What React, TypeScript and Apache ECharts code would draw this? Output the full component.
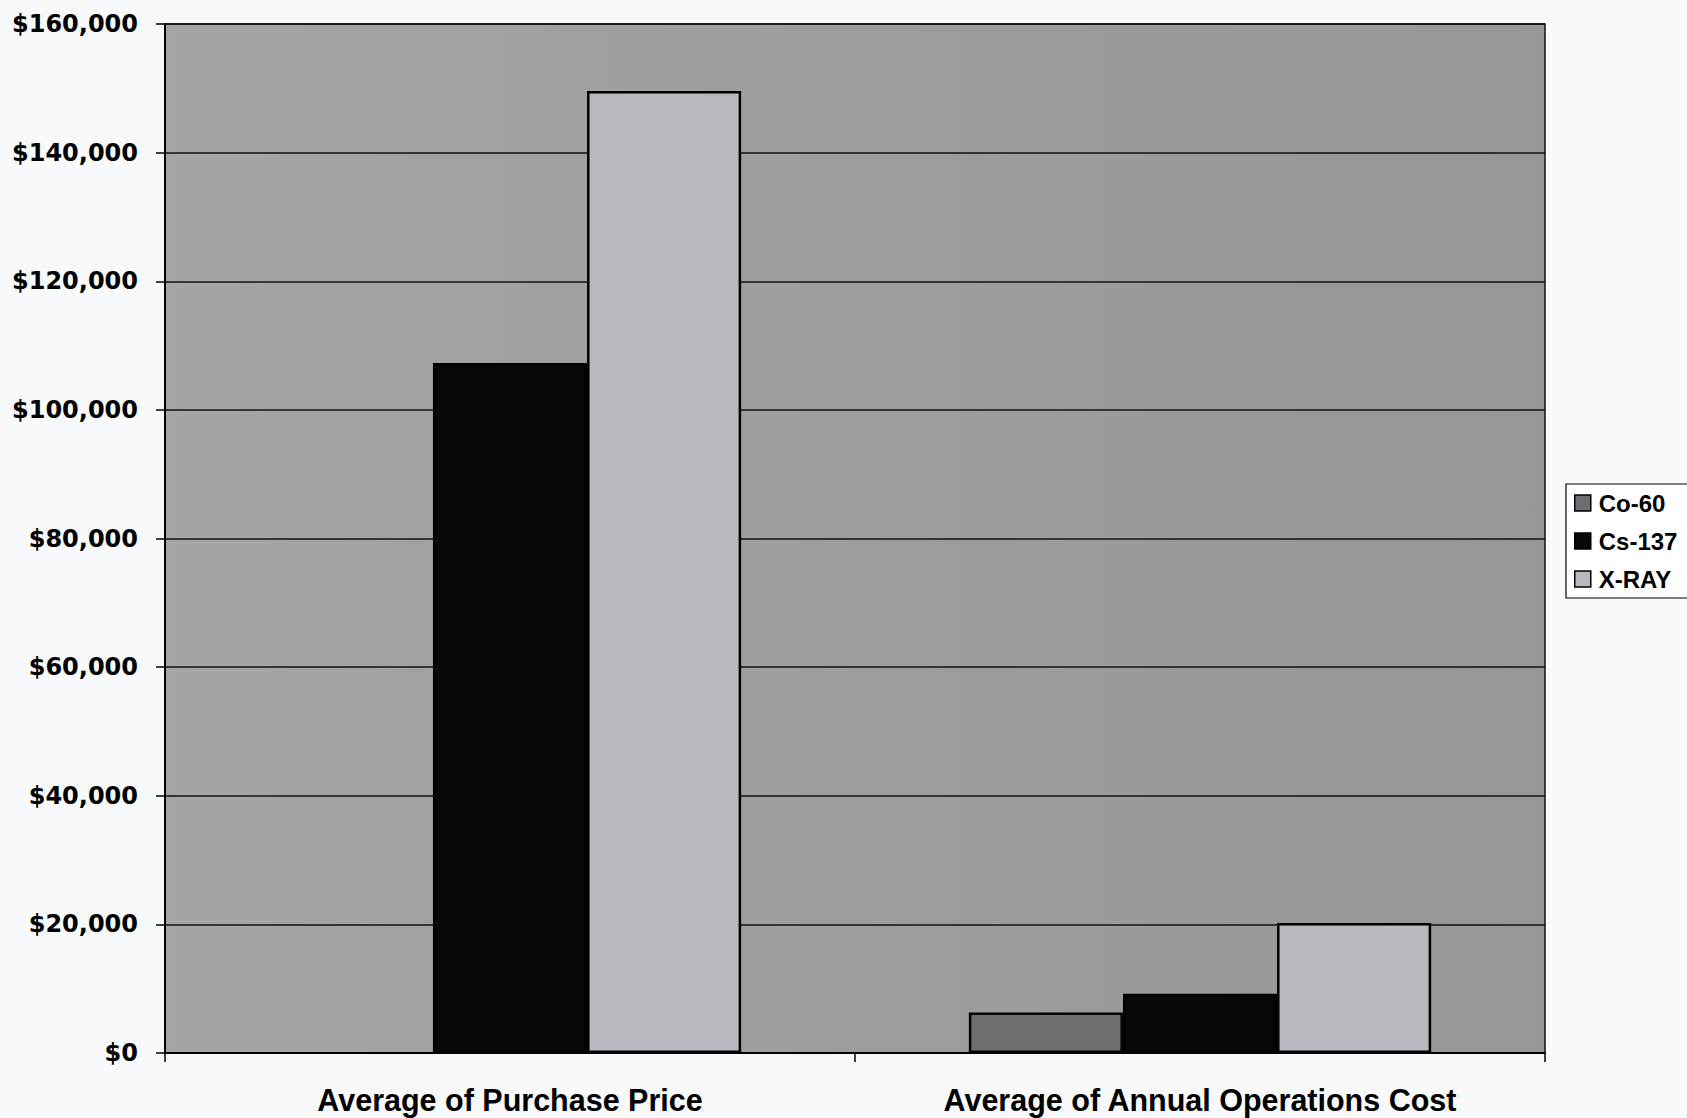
import React, { useEffect, useRef } from "react";
import * as echarts from "echarts";

// Cost comparison of irradiator types
const categories = ["Average of Purchase Price", "Average of Annual Operations Cost"];
const seriesNames = ["Co-60", "Cs-137", "X-RAY"];
const co60Values: (number | null)[] = [null, 6300];
const cs137Values: (number | null)[] = [107300, 9200];
const xrayValues: (number | null)[] = [149600, 20200];
const yMin = 0;
const yMax = 160000;
const yStep = 20000;

const barColors = ["#6d6f73", "#080808", "#b6b9be"];

function money(v: number): string {
  return "$" + v.toLocaleString("en-US");
}

export default function App() {
  const ref = useRef<HTMLDivElement | null>(null);

  useEffect(() => {
    if (!ref.current) return;
    const chart = echarts.init(ref.current, null, { renderer: "svg" });
    const valueSets = [co60Values, cs137Values, xrayValues];

    chart.setOption({
      animation: false,
      backgroundColor: "#f7f9fa",
      grid: {
        left: 165,
        top: 24,
        right: 142,
        bottom: 65,
        show: true,
        borderColor: "#111",
        borderWidth: 1.5,
        backgroundColor: {
          type: "linear",
          x: 0,
          y: 0,
          x2: 1,
          y2: 0,
          colorStops: [
            { offset: 0, color: "#a3a5a9" },
            { offset: 0.5, color: "#9b9da1" },
            { offset: 1, color: "#95979b" },
          ],
        },
      },
      legend: {
        orient: "vertical",
        left: 1566,
        top: 484,
        icon: "rect",
        itemWidth: 16,
        itemHeight: 16,
        itemGap: 12,
        padding: [6, 24, 6, 8],
        backgroundColor: "#ffffff",
        borderColor: "#000",
        borderWidth: 1.2,
        borderRadius: 0,
        itemStyle: { borderColor: "#000", borderWidth: 1.5 },
        textStyle: {
          fontFamily: "Liberation Sans, Arial, sans-serif",
          fontWeight: "bold",
          fontSize: 24,
          lineHeight: 26,
          color: "#000",
          padding: [0, 0, 0, 3],
        },
        data: seriesNames,
      },
      xAxis: {
        type: "category",
        data: categories,
        axisLine: { lineStyle: { color: "#000", width: 2 } },
        axisTick: { show: true, length: 9, interval: 0, lineStyle: { color: "#000", width: 1.5 } },
        axisLabel: {
          margin: 31,
          fontFamily: "Liberation Sans, Arial, sans-serif",
          fontWeight: "bold",
          fontSize: 30.5,
          color: "#000",
          interval: 0,
        },
        splitLine: { show: false },
      },
      yAxis: {
        type: "value",
        min: yMin,
        max: yMax,
        interval: yStep,
        axisLine: { show: true, lineStyle: { color: "#000", width: 2 } },
        axisTick: { show: true, length: 9, lineStyle: { color: "#000", width: 1.5 } },
        axisLabel: {
          margin: 27,
          fontFamily: "DejaVu Sans, sans-serif",
          fontWeight: "bold",
          fontSize: 24,
          color: "#000",
          formatter: (v: number) => money(v),
        },
        splitLine: { show: true, lineStyle: { color: "#111", width: 1.6 } },
      },
      series: seriesNames.map((name, i) => ({
        name,
        type: "bar",
        data: valueSets[i],
        barGap: "0%",
        barCategoryGap: "33%",
        itemStyle: {
          color: barColors[i],
          borderColor: "#000",
          borderWidth: 2.5,
        },
      })),
    });

    return () => chart.dispose();
  }, []);

  return (
    <div
      ref={ref}
      style={{ position: "fixed", left: 0, top: 0, width: 1687, height: 1118 }}
    />
  );
}
